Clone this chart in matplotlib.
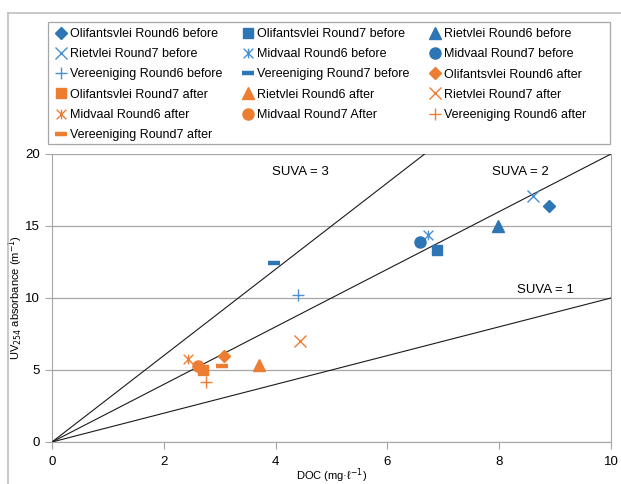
import matplotlib.pyplot as plt
import matplotlib.path as mpath
from matplotlib.lines import Line2D
from matplotlib.patches import Rectangle

plt.rcParams['font.family'] = ['Liberation Sans', 'DejaVu Sans']

# DOC (mg/l) and UV254 (1/m) for each sample
sites = ['Olifantsvlei', 'Olifantsvlei', 'Rietvlei', 'Rietvlei',
         'Midvaal', 'Midvaal', 'Vereeniging', 'Vereeniging']
rounds = ['Round6', 'Round7', 'Round6', 'Round7',
          'Round6', 'Round7', 'Round6', 'Round7']
doc_before = [8.89, 6.89, 7.98, 8.60, 6.73, 6.58, 4.40, 3.97]
uv_before = [16.4, 13.3, 15.0, 17.1, 14.4, 13.9, 10.2, 12.4]
doc_after = [3.08, 2.70, 3.70, 4.44, 2.43, 2.61, 2.75, 3.04]
uv_after = [6.0, 5.0, 5.35, 7.0, 5.75, 5.25, 4.2, 5.3]
suva = [3, 2, 1]

blue = '#2E75B6'
lblue = '#4A8FD0'
orange = '#ED7D31'

# Excel "star": an X with a vertical line through it
star = mpath.Path([(-1, -1), (1, 1), (-1, 1), (1, -1), (0, -1), (0, 1)],
                  [1, 2, 1, 2, 1, 2])

# marker style per sample: (marker, size, filled, edge width)
styles = [('D', 6.5, True, 1), ('s', 7.5, True, 1), ('^', 8, True, 1),
          ('x', 8, False, 1.0), (star, 7, False, 1.0), ('o', 8, True, 1),
          ('+', 9, False, 1.0), ('_', 9, False, 3.2)]

fig = plt.figure(figsize=(6.21, 4.84), dpi=100)
ax = fig.add_axes([52/621, 1-442/484, (611-52)/621, (442-154)/484])

handles = []
labels = []
for when, docs, uvs, col in [('before', doc_before, uv_before, blue),
                             ('after', doc_after, uv_after, orange)]:
    for i in range(len(sites)):
        m, ms, filled, mew = styles[i]
        c = col
        if when == 'before' and not filled and m != '_':
            c = lblue
        h, = ax.plot(docs[i], uvs[i], linestyle='none', marker=m, markersize=ms,
                     color=c, markerfacecolor=c if filled else 'none',
                     markeredgecolor=c, markeredgewidth=mew, zorder=4)
        lab = sites[i] + ' ' + rounds[i] + ' ' + when
        if sites[i] == 'Midvaal' and rounds[i] == 'Round7' and when == 'after':
            lab = 'Midvaal Round7 After'
        handles.append(h)
        labels.append(lab)

for k in suva:
    ax.plot([0, 10], [0, 10*k], color='#1a1a1a', lw=0.8, zorder=3)

ax.text(4.44, 18.75, 'SUVA = 3', ha='center', va='center', fontsize=9.5)
ax.text(8.37, 18.75, 'SUVA = 2', ha='center', va='center', fontsize=9.5)
ax.text(8.82, 10.55, 'SUVA = 1', ha='center', va='center', fontsize=9.5)

ax.set_xlim(0, 10)
ax.set_ylim(0, 20)
ax.set_xticks(range(0, 11, 2))
ax.set_yticks(range(0, 21, 5))
ax.yaxis.grid(True, color='#a6a6a6', lw=0.9)
ax.set_axisbelow(True)
for s in ['left', 'bottom', 'right']:
    ax.spines[s].set_color('#a6a6a6')
ax.spines['top'].set_visible(False)
ax.tick_params(axis='both', colors='#a6a6a6', labelcolor='black',
               labelsize=9.5, length=5, direction='out')
ax.tick_params(axis='x', pad=5)
ax.set_xlabel('DOC (mg·ℓ$^{-1}$)', fontsize=8, labelpad=-1)
ax.set_ylabel('UV$_{254}$ absorbance (m$^{-1}$)', fontsize=8, labelpad=0)

# legend: 3 columns, filled row by row, frame drawn separately
order = []
for c in range(3):
    order += list(range(c, len(handles), 3))
leg = fig.legend([handles[i] for i in order], [labels[i] for i in order],
                 ncol=3, loc='upper left', bbox_to_anchor=(56/621, 1-28/484),
                 fontsize=9, frameon=False, handlelength=0.8,
                 handletextpad=0.3, labelspacing=0.66, borderpad=0,
                 columnspacing=1.66, borderaxespad=0)
fig.add_artist(Rectangle((48/621, 1-144/484), (610-48)/621, (144-22)/484,
                         transform=fig.transFigure, fill=False,
                         edgecolor='#a6a6a6', lw=0.9))

# outer chart frame (cropped on right and bottom)
fig.add_artist(Line2D([7.5/621, 7.5/621], [0, 1-13/484], color='#bfbfbf',
                      lw=1.2, transform=fig.transFigure))
fig.add_artist(Line2D([7.5/621, 1], [1-13/484, 1-13/484], color='#bfbfbf',
                      lw=1.2, transform=fig.transFigure))

fig.savefig('out.png', dpi=100)
